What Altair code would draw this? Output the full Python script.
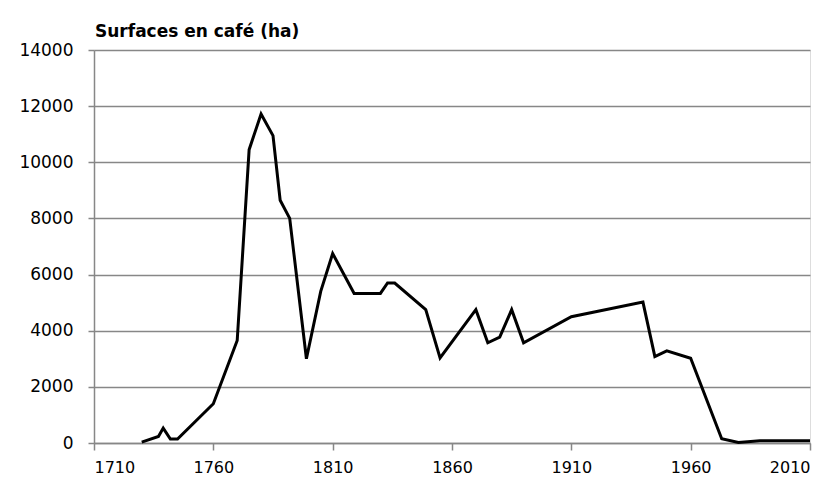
import altair as alt
import pandas as pd

years = [1730, 1737, 1739, 1742, 1745, 1760, 1770, 1775, 1780, 1785, 1788, 1792,
         1799, 1805, 1810, 1819, 1830, 1833, 1836, 1849, 1855, 1870, 1875, 1880,
         1885, 1890, 1910, 1940, 1945, 1950, 1960, 1973, 1980, 1989, 2010]
surfaces = [30, 230, 530, 140, 140, 1400, 3650, 10450, 11720, 10950, 8650, 8000,
            3000, 5400, 6750, 5330, 5330, 5700, 5700, 4750, 3030, 4750, 3570, 3770,
            4750, 3570, 4500, 5020, 3080, 3280, 3020, 150, 20, 80, 80]
x_ticks = [1710, 1760, 1810, 1860, 1910, 1960, 2010]
y_ticks = [0, 2000, 4000, 6000, 8000, 10000, 12000, 14000]

df = pd.DataFrame({"annee": years, "surface": surfaces})

FONT = "DejaVu Sans"
GREY = "#878787"

chart = alt.Chart(df).mark_line(color="black", strokeWidth=3, strokeJoin="miter").encode(
    x=alt.X("annee:Q",
            scale=alt.Scale(domain=[1710, 2010], nice=False, zero=False),
            axis=alt.Axis(values=x_ticks, format="d", title=None, grid=False,
                          domainColor=GREY, domainWidth=1.5, tickColor=GREY,
                          tickWidth=1.5, tickSize=7, labelFontSize=16,
                          labelFont=FONT, labelColor="black", labelPadding=9)),
    y=alt.Y("surface:Q",
            scale=alt.Scale(domain=[0, 14000], nice=False),
            axis=alt.Axis(values=y_ticks, format="d", title=None, grid=True,
                          gridColor=GREY, gridWidth=1.5, domainColor=GREY,
                          domainWidth=1.5, tickColor=GREY, tickWidth=1.5,
                          tickSize=6, labelFontSize=17, labelFont=FONT,
                          labelColor="black", labelPadding=15)),
).properties(
    width=716,
    height=393,
    title=alt.TitleParams("Surfaces en café (ha)", anchor="start", frame="group",
                          font=FONT, fontSize=17, fontWeight="bold",
                          color="black", offset=0, dx=1),
    autosize=alt.AutoSizeParams(type="none"),
    padding={"left": 86, "top": 42, "right": 14, "bottom": 32},
).configure_view(stroke=None).configure(background="white")

chart.save("out.html", embed_options={"renderer": "svg", "actions": False})
